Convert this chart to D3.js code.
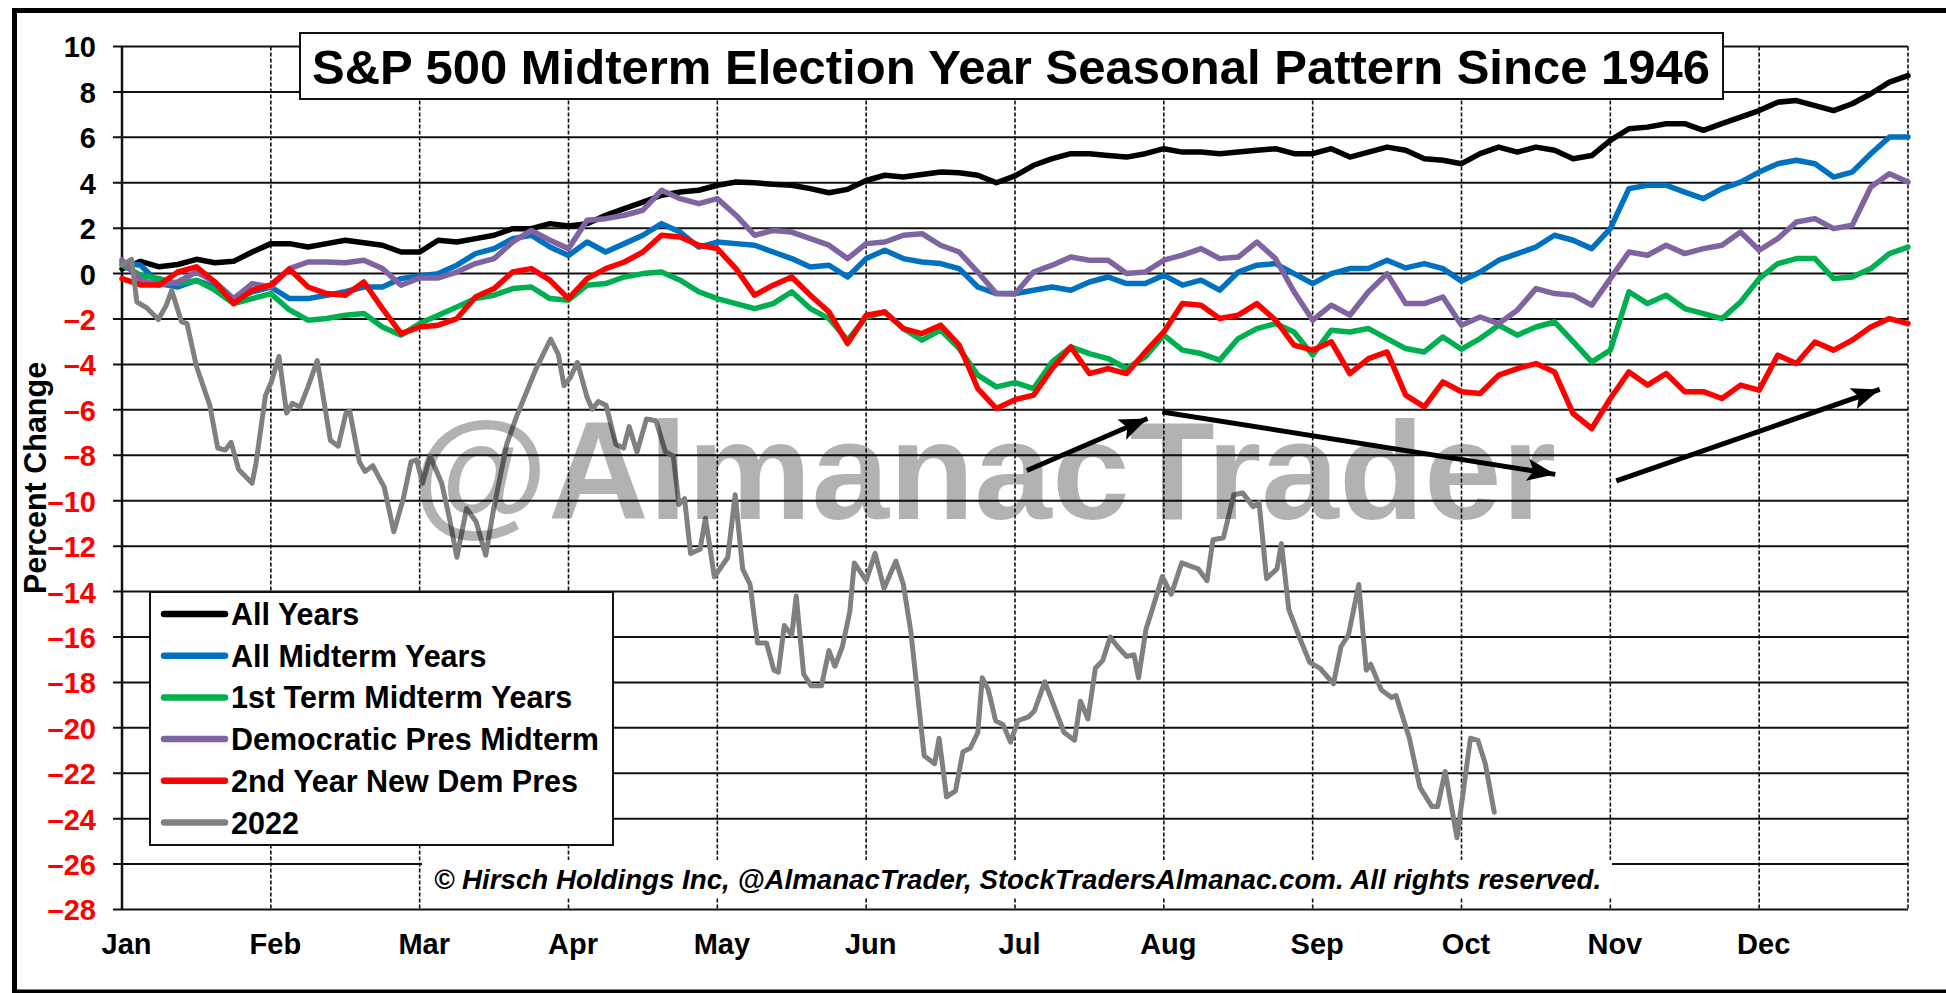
<!DOCTYPE html>
<html><head><meta charset="utf-8">
<script src="https://cdn.jsdelivr.net/npm/d3@7"></script>
<style>
html,body{margin:0;padding:0;background:#fff;}
svg{display:block;}
text{font-family:"Liberation Sans",Arial,sans-serif;}
</style></head>
<body>
<script>
// ---------------- DATA ----------------
const titleText = "S&P 500 Midterm Election Year Seasonal Pattern Since 1946";
const monthLabels = ["Jan","Feb","Mar","Apr","May","Jun","Jul","Aug","Sep","Oct","Nov","Dec"];
const yTicks = [-28,-26,-24,-22,-20,-18,-16,-14,-12,-10,-8,-6,-4,-2,0,2,4,6,8,10];
const sampleStep = 1/8; // months between samples

const allYears = [
 0.2,0.54,0.3,0.4,0.63,0.48,0.54,0.95,
 1.32,1.32,1.17,1.32,1.47,1.36,1.25,0.95,
 0.95,1.47,1.39,1.54,1.69,1.98,1.98,2.2,
 2.1,2.2,2.57,2.86,3.15,3.45,3.59,3.67,
 3.89,4.03,4.0,3.93,3.89,3.74,3.56,3.71,
 4.1,4.33,4.25,4.36,4.47,4.44,4.33,4.0,
 4.3,4.77,5.06,5.28,5.28,5.2,5.13,5.28,
 5.5,5.35,5.35,5.28,5.35,5.43,5.5,5.28,
 5.28,5.5,5.13,5.35,5.57,5.43,5.06,4.99,
 4.84,5.28,5.57,5.35,5.57,5.43,5.06,5.2,
 5.87,6.38,6.45,6.6,6.6,6.31,6.6,6.89,
 7.18,7.55,7.62,7.4,7.18,7.48,7.92,8.43,
 8.72];
const allMidterm = [
 0.5,0.37,-0.44,-0.59,-0.3,-0.59,-1.17,-0.8,
 -0.59,-1.1,-1.1,-0.95,-0.8,-0.59,-0.59,-0.22,
 -0.1,0,0.37,0.88,1.1,1.54,1.69,1.17,
 0.8,1.39,0.95,1.32,1.69,2.2,1.83,1.17,
 1.39,1.32,1.25,0.95,0.66,0.29,0.37,-0.15,
 0.66,1.03,0.66,0.51,0.44,0.22,-0.59,-0.88,
 -0.88,-0.73,-0.59,-0.73,-0.37,-0.15,-0.44,-0.44,
 -0.07,-0.51,-0.29,-0.73,0.07,0.37,0.44,0,
 -0.44,0,0.22,0.22,0.59,0.25,0.44,0.22,
 -0.33,0.07,0.59,0.88,1.17,1.69,1.47,1.1,
 1.98,3.74,3.89,3.89,3.59,3.3,3.74,4.03,
 4.47,4.84,4.99,4.84,4.25,4.47,5.28,6.01,
 6.01];
const firstTermMidterm = [
 0.37,-0.07,-0.22,-0.44,-0.3,-0.73,-1.32,-1.1,
 -0.88,-1.6,-2.05,-1.98,-1.83,-1.76,-2.35,-2.71,
 -2.2,-1.83,-1.47,-1.1,-0.95,-0.66,-0.59,-1.1,
 -1.17,-0.51,-0.44,-0.15,0,0.07,-0.29,-0.8,
 -1.1,-1.32,-1.54,-1.32,-0.8,-1.54,-1.98,-2.93,
 -1.91,-1.69,-2.42,-2.93,-2.49,-3.3,-4.47,-4.99,
 -4.8,-5.06,-3.89,-3.23,-3.52,-3.74,-4.18,-3.67,
 -2.71,-3.37,-3.52,-3.81,-2.86,-2.42,-2.2,-2.57,
 -3.59,-2.49,-2.57,-2.42,-2.86,-3.3,-3.45,-2.79,
 -3.33,-2.86,-2.27,-2.71,-2.35,-2.13,-3.0,-3.89,
 -3.37,-0.8,-1.32,-0.95,-1.54,-1.76,-1.98,-1.25,
 -0.22,0.44,0.66,0.66,-0.22,-0.15,0.22,0.88,
 1.17];
const demPresMidterm = [
 0.6,-0.3,-0.5,-0.37,0.07,-0.37,-1.1,-0.44,
 -0.59,0.22,0.51,0.51,0.48,0.59,0.22,-0.51,
 -0.19,-0.19,0.07,0.44,0.66,1.39,1.9,1.47,
 1.1,2.35,2.42,2.57,2.79,3.67,3.3,3.08,
 3.3,2.57,1.69,1.9,1.83,1.54,1.25,0.66,
 1.32,1.39,1.69,1.76,1.25,0.95,0.07,-0.88,
 -0.9,0.07,0.37,0.73,0.59,0.59,0,0.07,
 0.59,0.81,1.1,0.66,0.73,1.39,0.66,-0.8,
 -2.05,-1.39,-1.83,-0.8,0,-1.32,-1.32,-1.03,
 -2.27,-1.91,-2.2,-1.61,-0.66,-0.88,-0.95,-1.39,
 -0.22,0.95,0.81,1.25,0.88,1.1,1.25,1.83,
 1.03,1.54,2.27,2.42,1.98,2.13,3.81,4.4,
 4.03];
const newDemPres2nd = [
 -0.22,-0.5,-0.5,0.07,0.3,-0.37,-1.32,-0.73,
 -0.5,0.2,-0.59,-0.88,-0.95,-0.37,-1.54,-2.64,
 -2.35,-2.27,-1.98,-1.03,-0.66,0.07,0.22,-0.29,
 -1.1,-0.22,0.22,0.51,0.95,1.69,1.61,1.25,
 1.1,0.22,-0.95,-0.51,-0.15,-0.95,-1.69,-3.08,
 -1.83,-1.69,-2.42,-2.64,-2.27,-3.15,-5.06,-5.94,
 -5.55,-5.35,-4.18,-3.23,-4.4,-4.18,-4.4,-3.45,
 -2.57,-1.32,-1.39,-1.98,-1.83,-1.32,-2.05,-3.15,
 -3.37,-3.0,-4.4,-3.74,-3.45,-5.35,-5.87,-4.77,
 -5.2,-5.28,-4.47,-4.18,-3.96,-4.33,-6.16,-6.82,
 -5.5,-4.33,-4.91,-4.4,-5.2,-5.2,-5.5,-4.91,
 -5.13,-3.59,-3.96,-3.01,-3.37,-2.93,-2.35,-1.98,
 -2.2];
// 2022: [month position, percent change]
const year2022 = [
 [0,0.38],[0.064,0.63],[0.10,-1.25],[0.167,-1.51],[0.244,-2.02],[0.296,-1.42],[0.334,-0.74],[0.399,-2.11],[0.437,-2.2],[0.50,-4.08],
 [0.59,-5.8],[0.643,-7.68],[0.694,-7.77],[0.733,-7.43],[0.784,-8.63],[0.874,-9.23],[0.90,-8.37],[0.964,-5.37],[1.003,-4.77],[1.055,-3.65],
 [1.106,-6.14],[1.145,-5.71],[1.196,-5.88],[1.247,-5.03],[1.312,-3.83],[1.40,-7.34],[1.453,-7.6],[1.505,-6.14],[1.53,-6.05],[1.595,-8.28],
 [1.633,-8.71],[1.685,-8.46],[1.762,-9.4],[1.826,-11.37],[1.89,-9.91],[1.942,-8.28],[1.98,-8.2],[2.019,-9.23],[2.07,-8.03],[2.148,-9.23],
 [2.2,-10.77],[2.25,-12.49],[2.315,-10.34],[2.38,-10.94],[2.444,-12.4],[2.495,-10.43],[2.585,-7.51],[2.65,-6.31],[2.714,-5.28],[2.778,-4.25],
 [2.88,-2.88],[2.932,-3.57],[2.97,-4.94],[3.01,-4.6],[3.06,-3.91],[3.125,-5.45],[3.16,-5.97],[3.2,-5.63],[3.253,-5.8],[3.318,-7.51],
 [3.37,-7.68],[3.408,-6.74],[3.46,-7.86],[3.524,-6.4],[3.588,-6.48],[3.652,-7.86],[3.704,-8.03],[3.742,-10.17],[3.78,-9.91],[3.82,-12.32],
 [3.884,-12.14],[3.92,-10.77],[3.98,-13.35],[4.07,-12.5],[4.12,-9.74],[4.17,-13.0],[4.22,-13.69],[4.27,-16.26],[4.33,-16.26],[4.38,-17.46],
 [4.41,-17.55],[4.45,-15.49],[4.50,-15.92],[4.53,-14.2],[4.58,-17.63],[4.63,-18.15],[4.70,-18.15],[4.75,-16.6],[4.79,-17.29],[4.84,-16.43],
 [4.89,-14.89],[4.92,-12.74],[5.0,-13.52],[5.06,-12.32],[5.12,-13.86],[5.20,-12.66],[5.25,-13.69],[5.30,-15.75],[5.39,-21.23],[5.46,-21.58],
 [5.49,-20.46],[5.54,-23.04],[5.60,-22.78],[5.65,-21.06],[5.70,-20.89],[5.75,-20.21],[5.78,-17.8],[5.82,-18.32],[5.87,-19.69],[5.92,-19.86],
 [5.97,-20.63],[6.02,-19.69],[6.09,-19.52],[6.13,-19.26],[6.20,-17.98],[6.25,-18.83],[6.33,-20.21],[6.40,-20.55],[6.44,-18.83],[6.49,-19.61],
 [6.54,-17.38],[6.59,-17.03],[6.64,-16.0],[6.69,-16.43],[6.75,-16.86],[6.80,-16.78],[6.83,-17.8],[6.88,-15.66],[6.93,-14.63],[6.99,-13.34],
 [7.05,-14.12],[7.12,-12.74],[7.23,-13.0],[7.29,-13.52],[7.33,-11.72],[7.40,-11.63],[7.47,-9.74],[7.53,-9.66],[7.60,-10.26],[7.64,-10.09],
 [7.69,-13.43],[7.76,-13.0],[7.79,-11.89],[7.84,-14.8],[7.91,-16.0],[7.98,-17.12],[8.05,-17.38],[8.14,-18.06],[8.19,-16.43],[8.24,-15.92],
 [8.31,-13.69],[8.36,-17.46],[8.39,-17.2],[8.46,-18.32],[8.53,-18.66],[8.56,-18.58],[8.65,-20.46],[8.72,-22.61],[8.80,-23.46],[8.84,-23.46],
 [8.89,-21.92],[8.97,-24.84],[9.06,-20.46],[9.11,-20.55],[9.16,-21.58],[9.22,-23.72]];

const seriesNames = ["All Years","All Midterm Years","1st Term Midterm Years","Democratic Pres Midterm","2nd Year New Dem Pres","2022"];
const seriesColors = ["#000000","#0070C0","#00B050","#8064A2","#FF0000","#808080"];
// trend arrows: [startMonth, startValue, endMonth, endValue]
const arrows = [
 [6.08,-8.67,6.89,-6.38],
 [6.99,-6.09,9.63,-8.84],
 [10.04,-9.13,11.81,-5.1]];
const watermarkText = "@AlmanacTrader";
const copyrightText = "\u00A9 Hirsch Holdings Inc, @AlmanacTrader, StockTradersAlmanac.com. All rights reserved.";
const yAxisTitle = "Percent Change";

// ---------------- CHART ----------------
const W = 1946, H = 993;
const svg = d3.select("body").append("svg").attr("width", W).attr("height", H);
svg.append("rect").attr("width", W).attr("height", H).attr("fill", "#fff");

const x = d3.scaleLinear().domain([0, 12]).range([122, 1908]);
const y = d3.scaleLinear().domain([-28, 10]).range([909.5, 46.5]);

// outer frame (cropped at right)
svg.append("rect").attr("x", 14.5).attr("y", 10.5).attr("width", 1980).attr("height", 981.5)
  .attr("fill", "none").attr("stroke", "#000").attr("stroke-width", 5);

const grid = svg.append("g");
grid.selectAll("line.h").data(yTicks).join("line")
  .attr("x1", x(0) - 9).attr("x2", x(12))
  .attr("y1", d => y(d)).attr("y2", d => y(d))
  .attr("stroke", "#111").attr("stroke-width", 2);
grid.selectAll("line.v").data(d3.range(1, 13)).join("line")
  .attr("x1", d => x(d)).attr("x2", d => x(d))
  .attr("y1", y(10)).attr("y2", y(-28))
  .attr("stroke", "#111").attr("stroke-width", 1.6).attr("stroke-dasharray", "4,2");
grid.append("line").attr("x1", x(0)).attr("x2", x(0)).attr("y1", y(10)).attr("y2", y(-28))
  .attr("stroke", "#111").attr("stroke-width", 2.5);

// y axis labels via d3 axis
const yAxis = d3.axisLeft(y).tickValues(yTicks).tickSize(0).tickPadding(26)
  .tickFormat(d => d < 0 ? "\u2013" + Math.abs(d) : String(d));
const yg = svg.append("g").attr("transform", `translate(${x(0)},0)`).call(yAxis);
yg.select(".domain").remove();
yg.selectAll("text").attr("font-size", 29).attr("font-weight", "bold")
  .attr("font-family", "'Liberation Sans', Arial, sans-serif")
  .attr("fill", d => d < 0 ? "#FF0000" : "#000").attr("dy", "0.36em");

// x axis labels
const xAxis = d3.axisBottom(x).tickValues(d3.range(0, 12)).tickSize(0).tickPadding(24)
  .tickFormat((d, i) => monthLabels[i]);
const xg = svg.append("g").attr("transform", `translate(4,${y(-28)})`).call(xAxis);
xg.select(".domain").remove();
xg.selectAll("text").attr("font-size", 29).attr("font-weight", "bold")
  .attr("font-family", "'Liberation Sans', Arial, sans-serif").attr("fill", "#000");

// y axis title
svg.append("text").attr("transform", `translate(46,${(y(10) + y(-28)) / 2}) rotate(-90)`)
  .attr("text-anchor", "middle").attr("font-size", 30.5).attr("font-weight", "bold")
  .attr("fill", "#000").text(yAxisTitle);

// series
const uniformLine = d3.line().x((d, i) => x(i * sampleStep)).y(d => y(d));
const pairLine = d3.line().x(d => x(d[0])).y(d => y(d[1]));
const seriesData = [allYears, allMidterm, firstTermMidterm, demPresMidterm, newDemPres2nd];
const lines = svg.append("g").attr("fill", "none").attr("stroke-linejoin", "round").attr("stroke-linecap", "round");
seriesData.forEach((s, k) => {
  lines.append("path").attr("d", uniformLine(s)).attr("stroke", seriesColors[k]).attr("stroke-width", 5.5);
});
lines.append("path").attr("d", pairLine(year2022)).attr("stroke", seriesColors[5]).attr("stroke-width", 5);

// watermark (semi-transparent overlay)
svg.append("text").attr("x", 412).attr("y", 519).attr("font-size", 139.5).attr("font-weight", "bold")
  .attr("fill", "#000").attr("fill-opacity", 0.3).text(watermarkText);

// arrows
const defs = svg.append("defs");
defs.append("marker").attr("id", "ah").attr("markerUnits", "userSpaceOnUse")
  .attr("viewBox", "-30 -12 32 24").attr("refX", 0).attr("refY", 0)
  .attr("markerWidth", 32).attr("markerHeight", 24).attr("orient", "auto")
  .append("path").attr("d", "M0,0 L-28,-11 L-22,0 L-28,11 Z").attr("fill", "#000");
svg.append("g").selectAll("line").data(arrows).join("line")
  .attr("x1", d => x(d[0])).attr("y1", d => y(d[1]))
  .attr("x2", d => x(d[2])).attr("y2", d => y(d[3]))
  .attr("stroke", "#000").attr("stroke-width", 5).attr("marker-end", "url(#ah)");

// title box
svg.append("rect").attr("x", 300).attr("y", 33).attr("width", 1423).attr("height", 66)
  .attr("fill", "#fff").attr("stroke", "#111").attr("stroke-width", 2);
svg.append("text").attr("x", 1011).attr("y", 84).attr("text-anchor", "middle")
  .attr("font-size", 49).attr("font-weight", "bold").attr("fill", "#000").text(titleText);

// legend
const lg = svg.append("g");
lg.append("rect").attr("x", 150).attr("y", 592).attr("width", 463).attr("height", 253)
  .attr("fill", "#fff").attr("stroke", "#111").attr("stroke-width", 2);
seriesNames.forEach((n, i) => {
  const yy = 614 + i * 41.7;
  lg.append("line").attr("x1", 164).attr("x2", 225).attr("y1", yy).attr("y2", yy)
    .attr("stroke", seriesColors[i]).attr("stroke-width", 6.5).attr("stroke-linecap", "round");
  lg.append("text").attr("x", 231).attr("y", yy + 11).attr("font-size", 30.5).attr("font-weight", "bold")
    .attr("fill", "#000").text(n);
});

// copyright
svg.append("rect").attr("x", 422).attr("y", 860).attr("width", 1190).attr("height", 37).attr("fill", "#fff");
svg.append("text").attr("x", 434).attr("y", 889).attr("font-size", 27.7).attr("font-weight", "bold")
  .attr("font-style", "italic").attr("fill", "#000").text(copyrightText);
</script>
</body></html>
